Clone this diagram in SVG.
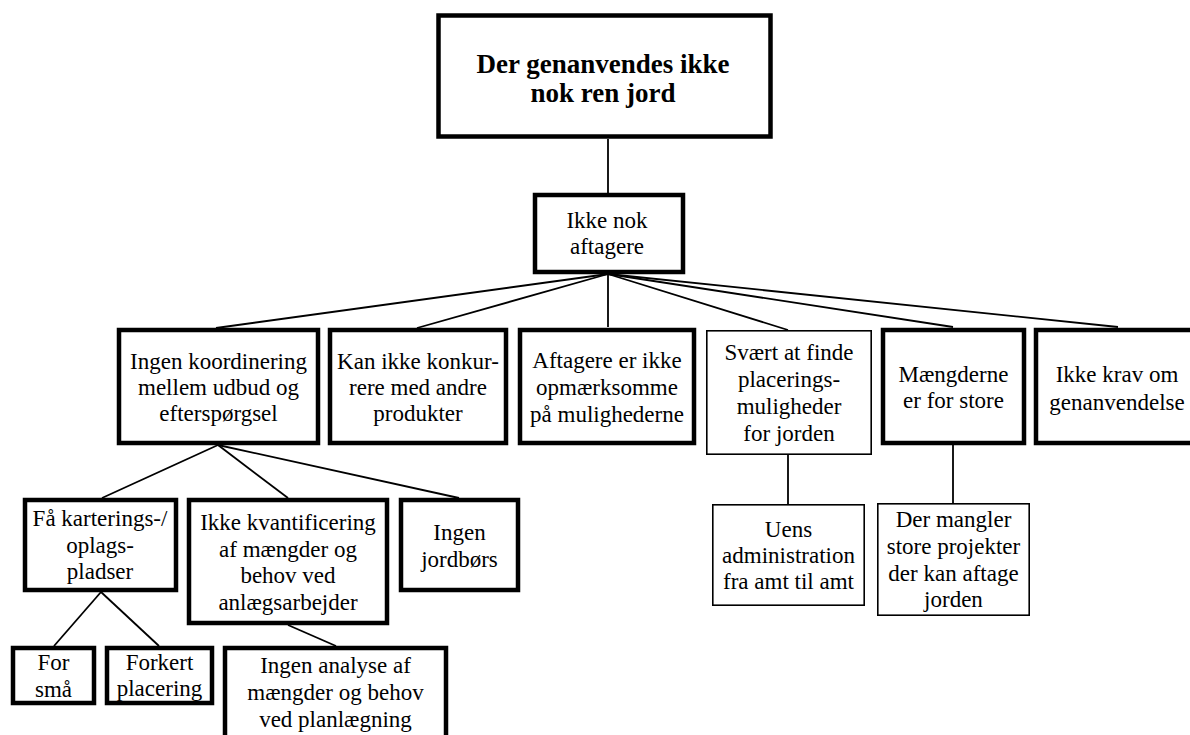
<svg xmlns="http://www.w3.org/2000/svg" width="1190" height="735" viewBox="0 0 1190 735" font-family="Liberation Serif, Times New Roman, DejaVu Serif, serif">
  <style>
    .thick { fill: #fff; stroke: #000; stroke-width: 4.5; }
    .thin { fill: #fff; stroke: #000; stroke-width: 1.6; }
    .lbl { font-size: 23px; fill: #000; text-anchor: middle; }
    .title { font-size: 27px; font-weight: bold; fill: #000; text-anchor: middle; }
    .edge { stroke: #000; stroke-width: 1.8; fill: none; }
  </style>
  <rect width="1190" height="735" fill="#fff"/>

  <!-- connectors -->
  <g id="connectors">
    <line class="edge" x1="608" y1="139" x2="608" y2="193" stroke-width="1.4"/>
    <line class="edge" x1="608" y1="274" x2="216" y2="328"/>
    <line class="edge" x1="608" y1="274" x2="417" y2="328"/>
    <line class="edge" x1="608" y1="274" x2="608" y2="327" stroke-width="1.4"/>
    <line class="edge" x1="608" y1="274" x2="788" y2="330"/>
    <line class="edge" x1="608" y1="274" x2="953" y2="327"/>
    <line class="edge" x1="608" y1="274" x2="1118" y2="327"/>
    <line class="edge" x1="218" y1="445" x2="102" y2="498"/>
    <line class="edge" x1="218" y1="445" x2="288" y2="498"/>
    <line class="edge" x1="218" y1="445" x2="459" y2="498"/>
    <line class="edge" x1="101" y1="592" x2="54" y2="646"/>
    <line class="edge" x1="101" y1="592" x2="159" y2="646"/>
    <line class="edge" x1="288" y1="625" x2="336" y2="646"/>
    <line class="edge" x1="788" y1="455" x2="788" y2="504"/>
    <line class="edge" x1="953" y1="445" x2="953" y2="503"/>
  </g>

  <!-- root -->
  <g id="root">
    <rect class="thick" x="438.5" y="15.5" width="332" height="121"/>
    <text class="title" x="603" y="73">Der genanvendes ikke</text>
    <text class="title" x="603" y="102">nok ren jord</text>
  </g>

  <g id="ikke-nok-aftagere">
    <rect class="thick" x="535" y="195" width="148" height="77"/>
    <text class="lbl" x="607" y="228">Ikke nok</text>
    <text class="lbl" x="607" y="254">aftagere</text>
  </g>

  <!-- second level -->
  <g id="ingen-koordinering">
    <rect class="thick" x="119" y="330" width="199" height="113"/>
    <text class="lbl" x="218.5" y="369">Ingen koordinering</text>
    <text class="lbl" x="218.5" y="395">mellem udbud og</text>
    <text class="lbl" x="218.5" y="421">efterspørgsel</text>
  </g>

  <g id="kan-ikke-konkurrere">
    <rect class="thick" x="330" y="330" width="176" height="113"/>
    <text class="lbl" x="418" y="369">Kan ikke konkur-</text>
    <text class="lbl" x="418" y="395">rere med andre</text>
    <text class="lbl" x="418" y="421">produkter</text>
  </g>

  <g id="aftagere-ikke-opmaerksomme">
    <rect class="thick" x="520" y="330" width="174" height="113"/>
    <text class="lbl" x="607" y="368">Aftagere er ikke</text>
    <text class="lbl" x="607" y="395">opmærksomme</text>
    <text class="lbl" x="607" y="422">på mulighederne</text>
  </g>

  <g id="svaert-at-finde">
    <rect class="thin" x="706.8" y="330.8" width="164.4" height="123.4"/>
    <text class="lbl" x="789" y="360">Svært at finde</text>
    <text class="lbl" x="789" y="387">placerings-</text>
    <text class="lbl" x="789" y="414">muligheder</text>
    <text class="lbl" x="789" y="441">for jorden</text>
  </g>

  <g id="maengderne-for-store">
    <rect class="thick" x="883" y="330" width="141" height="113"/>
    <text class="lbl" x="953.5" y="382">Mængderne</text>
    <text class="lbl" x="953.5" y="408">er for store</text>
  </g>

  <g id="ikke-krav">
    <rect class="thick" x="1036" y="330" width="170" height="113"/>
    <text class="lbl" x="1117" y="382">Ikke krav om</text>
    <text class="lbl" x="1117" y="410">genanvendelse</text>
  </g>

  <!-- third level -->
  <g id="faa-karteringspladser">
    <rect class="thick" x="25" y="500" width="151" height="90"/>
    <text class="lbl" x="100" y="526">Få karterings-/</text>
    <text class="lbl" x="100" y="553">oplags-</text>
    <text class="lbl" x="100" y="579">pladser</text>
  </g>

  <g id="ikke-kvantificering">
    <rect class="thick" x="189" y="500" width="198" height="123"/>
    <text class="lbl" x="288" y="530">Ikke kvantificering</text>
    <text class="lbl" x="288" y="557">af mængder og</text>
    <text class="lbl" x="288" y="583">behov ved</text>
    <text class="lbl" x="288" y="610">anlægsarbejder</text>
  </g>

  <g id="ingen-jordboers">
    <rect class="thick" x="401" y="500" width="117" height="90"/>
    <text class="lbl" x="459.5" y="540">Ingen</text>
    <text class="lbl" x="459.5" y="567">jordbørs</text>
  </g>

  <g id="uens-administration">
    <rect class="thin" x="712.8" y="504.8" width="151.4" height="100.4"/>
    <text class="lbl" x="788.5" y="537">Uens</text>
    <text class="lbl" x="788.5" y="563">administration</text>
    <text class="lbl" x="788.5" y="589">fra amt til amt</text>
  </g>

  <g id="der-mangler">
    <rect class="thin" x="877.8" y="503.8" width="151.4" height="111.4"/>
    <text class="lbl" x="953.5" y="527">Der mangler</text>
    <text class="lbl" x="953.5" y="554">store projekter</text>
    <text class="lbl" x="953.5" y="581">der kan aftage</text>
    <text class="lbl" x="953.5" y="607">jorden</text>
  </g>

  <!-- fourth level -->
  <g id="for-smaa">
    <rect class="thick" x="13" y="648" width="81" height="55"/>
    <text class="lbl" x="53.5" y="670">For</text>
    <text class="lbl" x="53.5" y="697">små</text>
  </g>

  <g id="forkert-placering">
    <rect class="thick" x="107" y="648" width="105" height="55"/>
    <text class="lbl" x="159.5" y="670">Forkert</text>
    <text class="lbl" x="159.5" y="696">placering</text>
  </g>

  <g id="ingen-analyse">
    <rect class="thick" x="225" y="648" width="221" height="100"/>
    <text class="lbl" x="335.5" y="673">Ingen analyse af</text>
    <text class="lbl" x="335.5" y="700">mængder og behov</text>
    <text class="lbl" x="335.5" y="727">ved planlægning</text>
  </g>
</svg>
